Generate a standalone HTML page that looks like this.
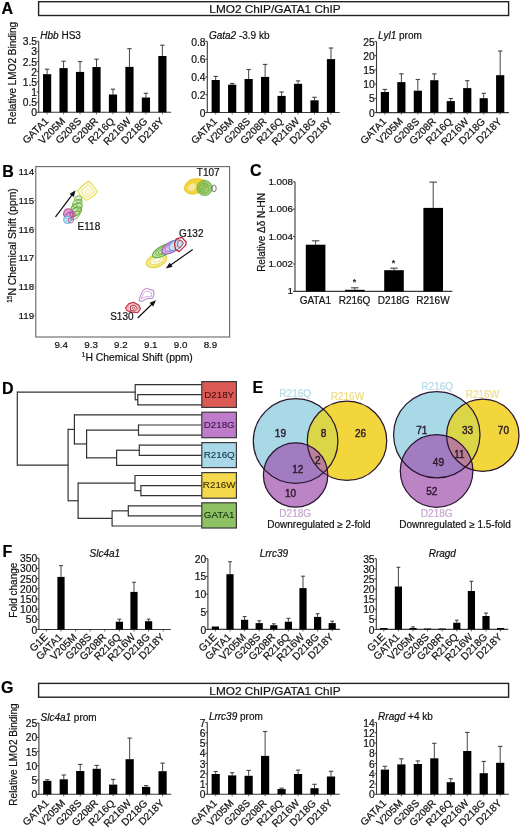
<!DOCTYPE html>
<html><head><meta charset="utf-8"><style>html,body{margin:0;padding:0;background:#fff}svg{display:block;filter:blur(0.3px)}text{font-family:"Liberation Sans",sans-serif}</style></head><body>
<svg width="520" height="828" viewBox="0 0 520 828" font-family='"Liberation Sans", sans-serif' fill="#111">
<rect width="520" height="828" fill="#fff"/>
<text x="1.5" y="13.6" font-size="16" font-weight="bold" fill="#000" stroke="#000" stroke-width="0.2">A</text>
<text x="2.2" y="176.6" font-size="16" font-weight="bold" fill="#000" stroke="#000" stroke-width="0.2">B</text>
<text x="250" y="176" font-size="16" font-weight="bold" fill="#000" stroke="#000" stroke-width="0.2">C</text>
<text x="2" y="393.6" font-size="16" font-weight="bold" fill="#000" stroke="#000" stroke-width="0.2">D</text>
<text x="252.4" y="393.2" font-size="16" font-weight="bold" fill="#000" stroke="#000" stroke-width="0.2">E</text>
<text x="2.6" y="557.4" font-size="16" font-weight="bold" fill="#000" stroke="#000" stroke-width="0.2">F</text>
<text x="1" y="692.8" font-size="16" font-weight="bold" fill="#000" stroke="#000" stroke-width="0.2">G</text>
<rect x="38.6" y="1.7" width="470" height="13.8" fill="#fff" stroke="#222" stroke-width="1.4"/>
<text x="275" y="12.7" font-size="11.8" text-anchor="middle" stroke="#111" stroke-width="0.2">LMO2 ChIP/GATA1 ChIP</text>
<text x="16" y="73" font-size="10" text-anchor="middle" stroke="#111" stroke-width="0.2" transform="rotate(-90 16 73)">Relative LMO2 Binding</text>
<line x1="38.7" y1="41.2" x2="38.7" y2="112.8" stroke="#3a3a3a" stroke-width="1.1"/>
<line x1="36.7" y1="112.3" x2="38.7" y2="112.3" stroke="#3a3a3a" stroke-width="1"/>
<text x="37" y="116.4" font-size="10.3" text-anchor="end" stroke="#111" stroke-width="0.2">0</text>
<line x1="36.7" y1="102.14" x2="38.7" y2="102.14" stroke="#3a3a3a" stroke-width="1"/>
<text x="37" y="106.24" font-size="10.3" text-anchor="end" stroke="#111" stroke-width="0.2">0.5</text>
<line x1="36.7" y1="91.99" x2="38.7" y2="91.99" stroke="#3a3a3a" stroke-width="1"/>
<text x="37" y="96.09" font-size="10.3" text-anchor="end" stroke="#111" stroke-width="0.2">1</text>
<line x1="36.7" y1="81.83" x2="38.7" y2="81.83" stroke="#3a3a3a" stroke-width="1"/>
<text x="37" y="85.93" font-size="10.3" text-anchor="end" stroke="#111" stroke-width="0.2">1.5</text>
<line x1="36.7" y1="71.67" x2="38.7" y2="71.67" stroke="#3a3a3a" stroke-width="1"/>
<text x="37" y="75.77" font-size="10.3" text-anchor="end" stroke="#111" stroke-width="0.2">2</text>
<line x1="36.7" y1="61.51" x2="38.7" y2="61.51" stroke="#3a3a3a" stroke-width="1"/>
<text x="37" y="65.61" font-size="10.3" text-anchor="end" stroke="#111" stroke-width="0.2">2.5</text>
<line x1="36.7" y1="51.36" x2="38.7" y2="51.36" stroke="#3a3a3a" stroke-width="1"/>
<text x="37" y="55.46" font-size="10.3" text-anchor="end" stroke="#111" stroke-width="0.2">3</text>
<line x1="36.7" y1="41.2" x2="38.7" y2="41.2" stroke="#3a3a3a" stroke-width="1"/>
<text x="37" y="45.3" font-size="10.3" text-anchor="end" stroke="#111" stroke-width="0.2">3.5</text>
<line x1="38.7" y1="112.3" x2="171.1" y2="112.3" stroke="#3a3a3a" stroke-width="1.1"/>
<line x1="47.1" y1="112.3" x2="47.1" y2="114.3" stroke="#3a3a3a" stroke-width="0.8"/>
<line x1="63.57" y1="112.3" x2="63.57" y2="114.3" stroke="#3a3a3a" stroke-width="0.8"/>
<line x1="80.04" y1="112.3" x2="80.04" y2="114.3" stroke="#3a3a3a" stroke-width="0.8"/>
<line x1="96.51" y1="112.3" x2="96.51" y2="114.3" stroke="#3a3a3a" stroke-width="0.8"/>
<line x1="112.98" y1="112.3" x2="112.98" y2="114.3" stroke="#3a3a3a" stroke-width="0.8"/>
<line x1="129.45" y1="112.3" x2="129.45" y2="114.3" stroke="#3a3a3a" stroke-width="0.8"/>
<line x1="145.92" y1="112.3" x2="145.92" y2="114.3" stroke="#3a3a3a" stroke-width="0.8"/>
<line x1="162.39" y1="112.3" x2="162.39" y2="114.3" stroke="#3a3a3a" stroke-width="0.8"/>
<line x1="47.1" y1="74.2" x2="47.1" y2="69.2" stroke="#444" stroke-width="1"/>
<line x1="44.9" y1="69.2" x2="49.3" y2="69.2" stroke="#444" stroke-width="1.1"/>
<rect x="43" y="74.2" width="8.2" height="38.1" fill="#000"/>
<line x1="63.57" y1="68.1" x2="63.57" y2="61.2" stroke="#444" stroke-width="1"/>
<line x1="61.37" y1="61.2" x2="65.77" y2="61.2" stroke="#444" stroke-width="1.1"/>
<rect x="59.47" y="68.1" width="8.2" height="44.2" fill="#000"/>
<line x1="80.04" y1="71.9" x2="80.04" y2="61.5" stroke="#444" stroke-width="1"/>
<line x1="77.84" y1="61.5" x2="82.24" y2="61.5" stroke="#444" stroke-width="1.1"/>
<rect x="75.94" y="71.9" width="8.2" height="40.4" fill="#000"/>
<line x1="96.51" y1="67" x2="96.51" y2="59.2" stroke="#444" stroke-width="1"/>
<line x1="94.31" y1="59.2" x2="98.71" y2="59.2" stroke="#444" stroke-width="1.1"/>
<rect x="92.41" y="67" width="8.2" height="45.3" fill="#000"/>
<line x1="112.98" y1="94.5" x2="112.98" y2="89.2" stroke="#444" stroke-width="1"/>
<line x1="110.78" y1="89.2" x2="115.18" y2="89.2" stroke="#444" stroke-width="1.1"/>
<rect x="108.88" y="94.5" width="8.2" height="17.8" fill="#000"/>
<line x1="129.45" y1="66.9" x2="129.45" y2="48.7" stroke="#444" stroke-width="1"/>
<line x1="127.25" y1="48.7" x2="131.65" y2="48.7" stroke="#444" stroke-width="1.1"/>
<rect x="125.35" y="66.9" width="8.2" height="45.4" fill="#000"/>
<line x1="145.92" y1="97.5" x2="145.92" y2="93.3" stroke="#444" stroke-width="1"/>
<line x1="143.72" y1="93.3" x2="148.12" y2="93.3" stroke="#444" stroke-width="1.1"/>
<rect x="141.82" y="97.5" width="8.2" height="14.8" fill="#000"/>
<line x1="162.39" y1="56" x2="162.39" y2="45.2" stroke="#444" stroke-width="1"/>
<line x1="160.19" y1="45.2" x2="164.59" y2="45.2" stroke="#444" stroke-width="1.1"/>
<rect x="158.29" y="56" width="8.2" height="56.3" fill="#000"/>
<text x="49.2" y="121.8" font-size="10.2" text-anchor="end" stroke="#111" stroke-width="0.2" transform="rotate(-45 49.2 121.8)">GATA1</text>
<text x="65.67" y="121.8" font-size="10.2" text-anchor="end" stroke="#111" stroke-width="0.2" transform="rotate(-45 65.67 121.8)">V205M</text>
<text x="82.14" y="121.8" font-size="10.2" text-anchor="end" stroke="#111" stroke-width="0.2" transform="rotate(-45 82.14 121.8)">G208S</text>
<text x="98.61" y="121.8" font-size="10.2" text-anchor="end" stroke="#111" stroke-width="0.2" transform="rotate(-45 98.61 121.8)">G208R</text>
<text x="115.08" y="121.8" font-size="10.2" text-anchor="end" stroke="#111" stroke-width="0.2" transform="rotate(-45 115.08 121.8)">R216Q</text>
<text x="131.55" y="121.8" font-size="10.2" text-anchor="end" stroke="#111" stroke-width="0.2" transform="rotate(-45 131.55 121.8)">R216W</text>
<text x="148.02" y="121.8" font-size="10.2" text-anchor="end" stroke="#111" stroke-width="0.2" transform="rotate(-45 148.02 121.8)">D218G</text>
<text x="164.49" y="121.8" font-size="10.2" text-anchor="end" stroke="#111" stroke-width="0.2" transform="rotate(-45 164.49 121.8)">D218Y</text>
<text x="40.3" y="38.6" font-size="10" stroke="#111" stroke-width="0.2"><tspan font-style="italic">Hbb</tspan> HS3</text>
<line x1="207.3" y1="41.4" x2="207.3" y2="113" stroke="#3a3a3a" stroke-width="1.1"/>
<line x1="205.3" y1="112.5" x2="207.3" y2="112.5" stroke="#3a3a3a" stroke-width="1"/>
<text x="205.6" y="116.6" font-size="10.3" text-anchor="end" stroke="#111" stroke-width="0.2">0</text>
<line x1="205.3" y1="94.72" x2="207.3" y2="94.72" stroke="#3a3a3a" stroke-width="1"/>
<text x="205.6" y="98.82" font-size="10.3" text-anchor="end" stroke="#111" stroke-width="0.2">0.2</text>
<line x1="205.3" y1="76.95" x2="207.3" y2="76.95" stroke="#3a3a3a" stroke-width="1"/>
<text x="205.6" y="81.05" font-size="10.3" text-anchor="end" stroke="#111" stroke-width="0.2">0.4</text>
<line x1="205.3" y1="59.18" x2="207.3" y2="59.18" stroke="#3a3a3a" stroke-width="1"/>
<text x="205.6" y="63.28" font-size="10.3" text-anchor="end" stroke="#111" stroke-width="0.2">0.6</text>
<line x1="205.3" y1="41.4" x2="207.3" y2="41.4" stroke="#3a3a3a" stroke-width="1"/>
<text x="205.6" y="45.5" font-size="10.3" text-anchor="end" stroke="#111" stroke-width="0.2">0.8</text>
<line x1="207.3" y1="112.5" x2="339.7" y2="112.5" stroke="#3a3a3a" stroke-width="1.1"/>
<line x1="215.7" y1="112.5" x2="215.7" y2="114.5" stroke="#3a3a3a" stroke-width="0.8"/>
<line x1="232.17" y1="112.5" x2="232.17" y2="114.5" stroke="#3a3a3a" stroke-width="0.8"/>
<line x1="248.64" y1="112.5" x2="248.64" y2="114.5" stroke="#3a3a3a" stroke-width="0.8"/>
<line x1="265.11" y1="112.5" x2="265.11" y2="114.5" stroke="#3a3a3a" stroke-width="0.8"/>
<line x1="281.58" y1="112.5" x2="281.58" y2="114.5" stroke="#3a3a3a" stroke-width="0.8"/>
<line x1="298.05" y1="112.5" x2="298.05" y2="114.5" stroke="#3a3a3a" stroke-width="0.8"/>
<line x1="314.52" y1="112.5" x2="314.52" y2="114.5" stroke="#3a3a3a" stroke-width="0.8"/>
<line x1="330.99" y1="112.5" x2="330.99" y2="114.5" stroke="#3a3a3a" stroke-width="0.8"/>
<line x1="215.7" y1="80" x2="215.7" y2="76.4" stroke="#444" stroke-width="1"/>
<line x1="213.5" y1="76.4" x2="217.9" y2="76.4" stroke="#444" stroke-width="1.1"/>
<rect x="211.6" y="80" width="8.2" height="32.5" fill="#000"/>
<line x1="232.17" y1="84.7" x2="232.17" y2="83.5" stroke="#444" stroke-width="1"/>
<line x1="229.97" y1="83.5" x2="234.37" y2="83.5" stroke="#444" stroke-width="1.1"/>
<rect x="228.07" y="84.7" width="8.2" height="27.8" fill="#000"/>
<line x1="248.64" y1="79" x2="248.64" y2="69.5" stroke="#444" stroke-width="1"/>
<line x1="246.44" y1="69.5" x2="250.84" y2="69.5" stroke="#444" stroke-width="1.1"/>
<rect x="244.54" y="79" width="8.2" height="33.5" fill="#000"/>
<line x1="265.11" y1="76.9" x2="265.11" y2="64.4" stroke="#444" stroke-width="1"/>
<line x1="262.91" y1="64.4" x2="267.31" y2="64.4" stroke="#444" stroke-width="1.1"/>
<rect x="261.01" y="76.9" width="8.2" height="35.6" fill="#000"/>
<line x1="281.58" y1="95.9" x2="281.58" y2="92" stroke="#444" stroke-width="1"/>
<line x1="279.38" y1="92" x2="283.78" y2="92" stroke="#444" stroke-width="1.1"/>
<rect x="277.48" y="95.9" width="8.2" height="16.6" fill="#000"/>
<line x1="298.05" y1="83.8" x2="298.05" y2="80.9" stroke="#444" stroke-width="1"/>
<line x1="295.85" y1="80.9" x2="300.25" y2="80.9" stroke="#444" stroke-width="1.1"/>
<rect x="293.95" y="83.8" width="8.2" height="28.7" fill="#000"/>
<line x1="314.52" y1="100.3" x2="314.52" y2="97.3" stroke="#444" stroke-width="1"/>
<line x1="312.32" y1="97.3" x2="316.72" y2="97.3" stroke="#444" stroke-width="1.1"/>
<rect x="310.42" y="100.3" width="8.2" height="12.2" fill="#000"/>
<line x1="330.99" y1="59.1" x2="330.99" y2="48" stroke="#444" stroke-width="1"/>
<line x1="328.79" y1="48" x2="333.19" y2="48" stroke="#444" stroke-width="1.1"/>
<rect x="326.89" y="59.1" width="8.2" height="53.4" fill="#000"/>
<text x="217.8" y="122" font-size="10.2" text-anchor="end" stroke="#111" stroke-width="0.2" transform="rotate(-45 217.8 122)">GATA1</text>
<text x="234.27" y="122" font-size="10.2" text-anchor="end" stroke="#111" stroke-width="0.2" transform="rotate(-45 234.27 122)">V205M</text>
<text x="250.74" y="122" font-size="10.2" text-anchor="end" stroke="#111" stroke-width="0.2" transform="rotate(-45 250.74 122)">G208S</text>
<text x="267.21" y="122" font-size="10.2" text-anchor="end" stroke="#111" stroke-width="0.2" transform="rotate(-45 267.21 122)">G208R</text>
<text x="283.68" y="122" font-size="10.2" text-anchor="end" stroke="#111" stroke-width="0.2" transform="rotate(-45 283.68 122)">R216Q</text>
<text x="300.15" y="122" font-size="10.2" text-anchor="end" stroke="#111" stroke-width="0.2" transform="rotate(-45 300.15 122)">R216W</text>
<text x="316.62" y="122" font-size="10.2" text-anchor="end" stroke="#111" stroke-width="0.2" transform="rotate(-45 316.62 122)">D218G</text>
<text x="333.09" y="122" font-size="10.2" text-anchor="end" stroke="#111" stroke-width="0.2" transform="rotate(-45 333.09 122)">D218Y</text>
<text x="208.9" y="38.8" font-size="10" stroke="#111" stroke-width="0.2"><tspan font-style="italic">Gata2</tspan> -3.9 kb</text>
<line x1="376.5" y1="41.4" x2="376.5" y2="113.1" stroke="#3a3a3a" stroke-width="1.1"/>
<line x1="374.5" y1="112.6" x2="376.5" y2="112.6" stroke="#3a3a3a" stroke-width="1"/>
<text x="374.8" y="116.7" font-size="10.3" text-anchor="end" stroke="#111" stroke-width="0.2">0</text>
<line x1="374.5" y1="98.36" x2="376.5" y2="98.36" stroke="#3a3a3a" stroke-width="1"/>
<text x="374.8" y="102.46" font-size="10.3" text-anchor="end" stroke="#111" stroke-width="0.2">5</text>
<line x1="374.5" y1="84.12" x2="376.5" y2="84.12" stroke="#3a3a3a" stroke-width="1"/>
<text x="374.8" y="88.22" font-size="10.3" text-anchor="end" stroke="#111" stroke-width="0.2">10</text>
<line x1="374.5" y1="69.88" x2="376.5" y2="69.88" stroke="#3a3a3a" stroke-width="1"/>
<text x="374.8" y="73.98" font-size="10.3" text-anchor="end" stroke="#111" stroke-width="0.2">15</text>
<line x1="374.5" y1="55.64" x2="376.5" y2="55.64" stroke="#3a3a3a" stroke-width="1"/>
<text x="374.8" y="59.74" font-size="10.3" text-anchor="end" stroke="#111" stroke-width="0.2">20</text>
<line x1="374.5" y1="41.4" x2="376.5" y2="41.4" stroke="#3a3a3a" stroke-width="1"/>
<text x="374.8" y="45.5" font-size="10.3" text-anchor="end" stroke="#111" stroke-width="0.2">25</text>
<line x1="376.5" y1="112.6" x2="508.9" y2="112.6" stroke="#3a3a3a" stroke-width="1.1"/>
<line x1="384.9" y1="112.6" x2="384.9" y2="114.6" stroke="#3a3a3a" stroke-width="0.8"/>
<line x1="401.37" y1="112.6" x2="401.37" y2="114.6" stroke="#3a3a3a" stroke-width="0.8"/>
<line x1="417.84" y1="112.6" x2="417.84" y2="114.6" stroke="#3a3a3a" stroke-width="0.8"/>
<line x1="434.31" y1="112.6" x2="434.31" y2="114.6" stroke="#3a3a3a" stroke-width="0.8"/>
<line x1="450.78" y1="112.6" x2="450.78" y2="114.6" stroke="#3a3a3a" stroke-width="0.8"/>
<line x1="467.25" y1="112.6" x2="467.25" y2="114.6" stroke="#3a3a3a" stroke-width="0.8"/>
<line x1="483.72" y1="112.6" x2="483.72" y2="114.6" stroke="#3a3a3a" stroke-width="0.8"/>
<line x1="500.19" y1="112.6" x2="500.19" y2="114.6" stroke="#3a3a3a" stroke-width="0.8"/>
<line x1="384.9" y1="92" x2="384.9" y2="89.4" stroke="#444" stroke-width="1"/>
<line x1="382.7" y1="89.4" x2="387.1" y2="89.4" stroke="#444" stroke-width="1.1"/>
<rect x="380.8" y="92" width="8.2" height="20.6" fill="#000"/>
<line x1="401.37" y1="82.1" x2="401.37" y2="73.8" stroke="#444" stroke-width="1"/>
<line x1="399.17" y1="73.8" x2="403.57" y2="73.8" stroke="#444" stroke-width="1.1"/>
<rect x="397.27" y="82.1" width="8.2" height="30.5" fill="#000"/>
<line x1="417.84" y1="90.7" x2="417.84" y2="79.5" stroke="#444" stroke-width="1"/>
<line x1="415.64" y1="79.5" x2="420.04" y2="79.5" stroke="#444" stroke-width="1.1"/>
<rect x="413.74" y="90.7" width="8.2" height="21.9" fill="#000"/>
<line x1="434.31" y1="80.2" x2="434.31" y2="73.9" stroke="#444" stroke-width="1"/>
<line x1="432.11" y1="73.9" x2="436.51" y2="73.9" stroke="#444" stroke-width="1.1"/>
<rect x="430.21" y="80.2" width="8.2" height="32.4" fill="#000"/>
<line x1="450.78" y1="101.1" x2="450.78" y2="98.5" stroke="#444" stroke-width="1"/>
<line x1="448.58" y1="98.5" x2="452.98" y2="98.5" stroke="#444" stroke-width="1.1"/>
<rect x="446.68" y="101.1" width="8.2" height="11.5" fill="#000"/>
<line x1="467.25" y1="88.1" x2="467.25" y2="80.7" stroke="#444" stroke-width="1"/>
<line x1="465.05" y1="80.7" x2="469.45" y2="80.7" stroke="#444" stroke-width="1.1"/>
<rect x="463.15" y="88.1" width="8.2" height="24.5" fill="#000"/>
<line x1="483.72" y1="98.2" x2="483.72" y2="93.3" stroke="#444" stroke-width="1"/>
<line x1="481.52" y1="93.3" x2="485.92" y2="93.3" stroke="#444" stroke-width="1.1"/>
<rect x="479.62" y="98.2" width="8.2" height="14.4" fill="#000"/>
<line x1="500.19" y1="75.2" x2="500.19" y2="51" stroke="#444" stroke-width="1"/>
<line x1="497.99" y1="51" x2="502.39" y2="51" stroke="#444" stroke-width="1.1"/>
<rect x="496.09" y="75.2" width="8.2" height="37.4" fill="#000"/>
<text x="387" y="122.1" font-size="10.2" text-anchor="end" stroke="#111" stroke-width="0.2" transform="rotate(-45 387 122.1)">GATA1</text>
<text x="403.47" y="122.1" font-size="10.2" text-anchor="end" stroke="#111" stroke-width="0.2" transform="rotate(-45 403.47 122.1)">V205M</text>
<text x="419.94" y="122.1" font-size="10.2" text-anchor="end" stroke="#111" stroke-width="0.2" transform="rotate(-45 419.94 122.1)">G208S</text>
<text x="436.41" y="122.1" font-size="10.2" text-anchor="end" stroke="#111" stroke-width="0.2" transform="rotate(-45 436.41 122.1)">G208R</text>
<text x="452.88" y="122.1" font-size="10.2" text-anchor="end" stroke="#111" stroke-width="0.2" transform="rotate(-45 452.88 122.1)">R216Q</text>
<text x="469.35" y="122.1" font-size="10.2" text-anchor="end" stroke="#111" stroke-width="0.2" transform="rotate(-45 469.35 122.1)">R216W</text>
<text x="485.82" y="122.1" font-size="10.2" text-anchor="end" stroke="#111" stroke-width="0.2" transform="rotate(-45 485.82 122.1)">D218G</text>
<text x="502.29" y="122.1" font-size="10.2" text-anchor="end" stroke="#111" stroke-width="0.2" transform="rotate(-45 502.29 122.1)">D218Y</text>
<text x="378.1" y="38.8" font-size="10" stroke="#111" stroke-width="0.2"><tspan font-style="italic">Lyl1</tspan> prom</text>
<rect x="38.6" y="683.4" width="470" height="13.8" fill="#fff" stroke="#222" stroke-width="1.4"/>
<text x="275" y="694.5" font-size="11.8" text-anchor="middle" stroke="#111" stroke-width="0.2">LMO2 ChIP/GATA1 ChIP</text>
<text x="16.9" y="754.5" font-size="10" text-anchor="middle" stroke="#111" stroke-width="0.2" transform="rotate(-90 16.9 754.5)">Relative LMO2 Binding</text>
<line x1="38.9" y1="723.1" x2="38.9" y2="794.8" stroke="#3a3a3a" stroke-width="1.1"/>
<line x1="36.9" y1="794.3" x2="38.9" y2="794.3" stroke="#3a3a3a" stroke-width="1"/>
<text x="37.2" y="798.4" font-size="10.3" text-anchor="end" stroke="#111" stroke-width="0.2">0</text>
<line x1="36.9" y1="780.06" x2="38.9" y2="780.06" stroke="#3a3a3a" stroke-width="1"/>
<text x="37.2" y="784.16" font-size="10.3" text-anchor="end" stroke="#111" stroke-width="0.2">5</text>
<line x1="36.9" y1="765.82" x2="38.9" y2="765.82" stroke="#3a3a3a" stroke-width="1"/>
<text x="37.2" y="769.92" font-size="10.3" text-anchor="end" stroke="#111" stroke-width="0.2">10</text>
<line x1="36.9" y1="751.58" x2="38.9" y2="751.58" stroke="#3a3a3a" stroke-width="1"/>
<text x="37.2" y="755.68" font-size="10.3" text-anchor="end" stroke="#111" stroke-width="0.2">15</text>
<line x1="36.9" y1="737.34" x2="38.9" y2="737.34" stroke="#3a3a3a" stroke-width="1"/>
<text x="37.2" y="741.44" font-size="10.3" text-anchor="end" stroke="#111" stroke-width="0.2">20</text>
<line x1="36.9" y1="723.1" x2="38.9" y2="723.1" stroke="#3a3a3a" stroke-width="1"/>
<text x="37.2" y="727.2" font-size="10.3" text-anchor="end" stroke="#111" stroke-width="0.2">25</text>
<line x1="38.9" y1="794.3" x2="171.3" y2="794.3" stroke="#3a3a3a" stroke-width="1.1"/>
<line x1="47.3" y1="794.3" x2="47.3" y2="796.3" stroke="#3a3a3a" stroke-width="0.8"/>
<line x1="63.77" y1="794.3" x2="63.77" y2="796.3" stroke="#3a3a3a" stroke-width="0.8"/>
<line x1="80.24" y1="794.3" x2="80.24" y2="796.3" stroke="#3a3a3a" stroke-width="0.8"/>
<line x1="96.71" y1="794.3" x2="96.71" y2="796.3" stroke="#3a3a3a" stroke-width="0.8"/>
<line x1="113.18" y1="794.3" x2="113.18" y2="796.3" stroke="#3a3a3a" stroke-width="0.8"/>
<line x1="129.65" y1="794.3" x2="129.65" y2="796.3" stroke="#3a3a3a" stroke-width="0.8"/>
<line x1="146.12" y1="794.3" x2="146.12" y2="796.3" stroke="#3a3a3a" stroke-width="0.8"/>
<line x1="162.59" y1="794.3" x2="162.59" y2="796.3" stroke="#3a3a3a" stroke-width="0.8"/>
<line x1="47.3" y1="780.9" x2="47.3" y2="779.7" stroke="#444" stroke-width="1"/>
<line x1="45.1" y1="779.7" x2="49.5" y2="779.7" stroke="#444" stroke-width="1.1"/>
<rect x="43.2" y="780.9" width="8.2" height="13.4" fill="#000"/>
<line x1="63.77" y1="779.3" x2="63.77" y2="775" stroke="#444" stroke-width="1"/>
<line x1="61.57" y1="775" x2="65.97" y2="775" stroke="#444" stroke-width="1.1"/>
<rect x="59.67" y="779.3" width="8.2" height="15" fill="#000"/>
<line x1="80.24" y1="771" x2="80.24" y2="764.4" stroke="#444" stroke-width="1"/>
<line x1="78.04" y1="764.4" x2="82.44" y2="764.4" stroke="#444" stroke-width="1.1"/>
<rect x="76.14" y="771" width="8.2" height="23.3" fill="#000"/>
<line x1="96.71" y1="768.8" x2="96.71" y2="765.4" stroke="#444" stroke-width="1"/>
<line x1="94.51" y1="765.4" x2="98.91" y2="765.4" stroke="#444" stroke-width="1.1"/>
<rect x="92.61" y="768.8" width="8.2" height="25.5" fill="#000"/>
<line x1="113.18" y1="784.6" x2="113.18" y2="779.4" stroke="#444" stroke-width="1"/>
<line x1="110.98" y1="779.4" x2="115.38" y2="779.4" stroke="#444" stroke-width="1.1"/>
<rect x="109.08" y="784.6" width="8.2" height="9.7" fill="#000"/>
<line x1="129.65" y1="759.2" x2="129.65" y2="738.1" stroke="#444" stroke-width="1"/>
<line x1="127.45" y1="738.1" x2="131.85" y2="738.1" stroke="#444" stroke-width="1.1"/>
<rect x="125.55" y="759.2" width="8.2" height="35.1" fill="#000"/>
<line x1="146.12" y1="786.9" x2="146.12" y2="785.6" stroke="#444" stroke-width="1"/>
<line x1="143.92" y1="785.6" x2="148.32" y2="785.6" stroke="#444" stroke-width="1.1"/>
<rect x="142.02" y="786.9" width="8.2" height="7.4" fill="#000"/>
<line x1="162.59" y1="771.2" x2="162.59" y2="763.1" stroke="#444" stroke-width="1"/>
<line x1="160.39" y1="763.1" x2="164.79" y2="763.1" stroke="#444" stroke-width="1.1"/>
<rect x="158.49" y="771.2" width="8.2" height="23.1" fill="#000"/>
<text x="49.4" y="803.8" font-size="10.2" text-anchor="end" stroke="#111" stroke-width="0.2" transform="rotate(-45 49.4 803.8)">GATA1</text>
<text x="65.87" y="803.8" font-size="10.2" text-anchor="end" stroke="#111" stroke-width="0.2" transform="rotate(-45 65.87 803.8)">V205M</text>
<text x="82.34" y="803.8" font-size="10.2" text-anchor="end" stroke="#111" stroke-width="0.2" transform="rotate(-45 82.34 803.8)">G208S</text>
<text x="98.81" y="803.8" font-size="10.2" text-anchor="end" stroke="#111" stroke-width="0.2" transform="rotate(-45 98.81 803.8)">G208R</text>
<text x="115.28" y="803.8" font-size="10.2" text-anchor="end" stroke="#111" stroke-width="0.2" transform="rotate(-45 115.28 803.8)">R216Q</text>
<text x="131.75" y="803.8" font-size="10.2" text-anchor="end" stroke="#111" stroke-width="0.2" transform="rotate(-45 131.75 803.8)">R216W</text>
<text x="148.22" y="803.8" font-size="10.2" text-anchor="end" stroke="#111" stroke-width="0.2" transform="rotate(-45 148.22 803.8)">D218G</text>
<text x="164.69" y="803.8" font-size="10.2" text-anchor="end" stroke="#111" stroke-width="0.2" transform="rotate(-45 164.69 803.8)">D218Y</text>
<text x="40.5" y="720.5" font-size="10" stroke="#111" stroke-width="0.2"><tspan font-style="italic">Slc4a1</tspan> prom</text>
<line x1="207.3" y1="722.5" x2="207.3" y2="794.8" stroke="#3a3a3a" stroke-width="1.1"/>
<line x1="205.3" y1="794.3" x2="207.3" y2="794.3" stroke="#3a3a3a" stroke-width="1"/>
<text x="205.6" y="798.4" font-size="10.3" text-anchor="end" stroke="#111" stroke-width="0.2">0</text>
<line x1="205.3" y1="784.04" x2="207.3" y2="784.04" stroke="#3a3a3a" stroke-width="1"/>
<text x="205.6" y="788.14" font-size="10.3" text-anchor="end" stroke="#111" stroke-width="0.2">1</text>
<line x1="205.3" y1="773.79" x2="207.3" y2="773.79" stroke="#3a3a3a" stroke-width="1"/>
<text x="205.6" y="777.89" font-size="10.3" text-anchor="end" stroke="#111" stroke-width="0.2">2</text>
<line x1="205.3" y1="763.53" x2="207.3" y2="763.53" stroke="#3a3a3a" stroke-width="1"/>
<text x="205.6" y="767.63" font-size="10.3" text-anchor="end" stroke="#111" stroke-width="0.2">3</text>
<line x1="205.3" y1="753.27" x2="207.3" y2="753.27" stroke="#3a3a3a" stroke-width="1"/>
<text x="205.6" y="757.37" font-size="10.3" text-anchor="end" stroke="#111" stroke-width="0.2">4</text>
<line x1="205.3" y1="743.01" x2="207.3" y2="743.01" stroke="#3a3a3a" stroke-width="1"/>
<text x="205.6" y="747.11" font-size="10.3" text-anchor="end" stroke="#111" stroke-width="0.2">5</text>
<line x1="205.3" y1="732.76" x2="207.3" y2="732.76" stroke="#3a3a3a" stroke-width="1"/>
<text x="205.6" y="736.86" font-size="10.3" text-anchor="end" stroke="#111" stroke-width="0.2">6</text>
<line x1="205.3" y1="722.5" x2="207.3" y2="722.5" stroke="#3a3a3a" stroke-width="1"/>
<text x="205.6" y="726.6" font-size="10.3" text-anchor="end" stroke="#111" stroke-width="0.2">7</text>
<line x1="207.3" y1="794.3" x2="339.7" y2="794.3" stroke="#3a3a3a" stroke-width="1.1"/>
<line x1="215.7" y1="794.3" x2="215.7" y2="796.3" stroke="#3a3a3a" stroke-width="0.8"/>
<line x1="232.17" y1="794.3" x2="232.17" y2="796.3" stroke="#3a3a3a" stroke-width="0.8"/>
<line x1="248.64" y1="794.3" x2="248.64" y2="796.3" stroke="#3a3a3a" stroke-width="0.8"/>
<line x1="265.11" y1="794.3" x2="265.11" y2="796.3" stroke="#3a3a3a" stroke-width="0.8"/>
<line x1="281.58" y1="794.3" x2="281.58" y2="796.3" stroke="#3a3a3a" stroke-width="0.8"/>
<line x1="298.05" y1="794.3" x2="298.05" y2="796.3" stroke="#3a3a3a" stroke-width="0.8"/>
<line x1="314.52" y1="794.3" x2="314.52" y2="796.3" stroke="#3a3a3a" stroke-width="0.8"/>
<line x1="330.99" y1="794.3" x2="330.99" y2="796.3" stroke="#3a3a3a" stroke-width="0.8"/>
<line x1="215.7" y1="774" x2="215.7" y2="771.5" stroke="#444" stroke-width="1"/>
<line x1="213.5" y1="771.5" x2="217.9" y2="771.5" stroke="#444" stroke-width="1.1"/>
<rect x="211.6" y="774" width="8.2" height="20.3" fill="#000"/>
<line x1="232.17" y1="775.4" x2="232.17" y2="772.7" stroke="#444" stroke-width="1"/>
<line x1="229.97" y1="772.7" x2="234.37" y2="772.7" stroke="#444" stroke-width="1.1"/>
<rect x="228.07" y="775.4" width="8.2" height="18.9" fill="#000"/>
<line x1="248.64" y1="775.8" x2="248.64" y2="770.4" stroke="#444" stroke-width="1"/>
<line x1="246.44" y1="770.4" x2="250.84" y2="770.4" stroke="#444" stroke-width="1.1"/>
<rect x="244.54" y="775.8" width="8.2" height="18.5" fill="#000"/>
<line x1="265.11" y1="755.9" x2="265.11" y2="731.5" stroke="#444" stroke-width="1"/>
<line x1="262.91" y1="731.5" x2="267.31" y2="731.5" stroke="#444" stroke-width="1.1"/>
<rect x="261.01" y="755.9" width="8.2" height="38.4" fill="#000"/>
<line x1="281.58" y1="789.1" x2="281.58" y2="788.2" stroke="#444" stroke-width="1"/>
<line x1="279.38" y1="788.2" x2="283.78" y2="788.2" stroke="#444" stroke-width="1.1"/>
<rect x="277.48" y="789.1" width="8.2" height="5.2" fill="#000"/>
<line x1="298.05" y1="774" x2="298.05" y2="770.1" stroke="#444" stroke-width="1"/>
<line x1="295.85" y1="770.1" x2="300.25" y2="770.1" stroke="#444" stroke-width="1.1"/>
<rect x="293.95" y="774" width="8.2" height="20.3" fill="#000"/>
<line x1="314.52" y1="788.2" x2="314.52" y2="784.3" stroke="#444" stroke-width="1"/>
<line x1="312.32" y1="784.3" x2="316.72" y2="784.3" stroke="#444" stroke-width="1.1"/>
<rect x="310.42" y="788.2" width="8.2" height="6.1" fill="#000"/>
<line x1="330.99" y1="776.5" x2="330.99" y2="771.3" stroke="#444" stroke-width="1"/>
<line x1="328.79" y1="771.3" x2="333.19" y2="771.3" stroke="#444" stroke-width="1.1"/>
<rect x="326.89" y="776.5" width="8.2" height="17.8" fill="#000"/>
<text x="217.8" y="803.8" font-size="10.2" text-anchor="end" stroke="#111" stroke-width="0.2" transform="rotate(-45 217.8 803.8)">GATA1</text>
<text x="234.27" y="803.8" font-size="10.2" text-anchor="end" stroke="#111" stroke-width="0.2" transform="rotate(-45 234.27 803.8)">V205M</text>
<text x="250.74" y="803.8" font-size="10.2" text-anchor="end" stroke="#111" stroke-width="0.2" transform="rotate(-45 250.74 803.8)">G208S</text>
<text x="267.21" y="803.8" font-size="10.2" text-anchor="end" stroke="#111" stroke-width="0.2" transform="rotate(-45 267.21 803.8)">G208R</text>
<text x="283.68" y="803.8" font-size="10.2" text-anchor="end" stroke="#111" stroke-width="0.2" transform="rotate(-45 283.68 803.8)">R216Q</text>
<text x="300.15" y="803.8" font-size="10.2" text-anchor="end" stroke="#111" stroke-width="0.2" transform="rotate(-45 300.15 803.8)">R216W</text>
<text x="316.62" y="803.8" font-size="10.2" text-anchor="end" stroke="#111" stroke-width="0.2" transform="rotate(-45 316.62 803.8)">D218G</text>
<text x="333.09" y="803.8" font-size="10.2" text-anchor="end" stroke="#111" stroke-width="0.2" transform="rotate(-45 333.09 803.8)">D218Y</text>
<text x="208.9" y="719.9" font-size="10" stroke="#111" stroke-width="0.2"><tspan font-style="italic">Lrrc39</tspan> prom</text>
<line x1="376.5" y1="722.5" x2="376.5" y2="794.8" stroke="#3a3a3a" stroke-width="1.1"/>
<line x1="374.5" y1="794.3" x2="376.5" y2="794.3" stroke="#3a3a3a" stroke-width="1"/>
<text x="374.8" y="798.4" font-size="10.3" text-anchor="end" stroke="#111" stroke-width="0.2">0</text>
<line x1="374.5" y1="784.04" x2="376.5" y2="784.04" stroke="#3a3a3a" stroke-width="1"/>
<text x="374.8" y="788.14" font-size="10.3" text-anchor="end" stroke="#111" stroke-width="0.2">2</text>
<line x1="374.5" y1="773.79" x2="376.5" y2="773.79" stroke="#3a3a3a" stroke-width="1"/>
<text x="374.8" y="777.89" font-size="10.3" text-anchor="end" stroke="#111" stroke-width="0.2">4</text>
<line x1="374.5" y1="763.53" x2="376.5" y2="763.53" stroke="#3a3a3a" stroke-width="1"/>
<text x="374.8" y="767.63" font-size="10.3" text-anchor="end" stroke="#111" stroke-width="0.2">6</text>
<line x1="374.5" y1="753.27" x2="376.5" y2="753.27" stroke="#3a3a3a" stroke-width="1"/>
<text x="374.8" y="757.37" font-size="10.3" text-anchor="end" stroke="#111" stroke-width="0.2">8</text>
<line x1="374.5" y1="743.01" x2="376.5" y2="743.01" stroke="#3a3a3a" stroke-width="1"/>
<text x="374.8" y="747.11" font-size="10.3" text-anchor="end" stroke="#111" stroke-width="0.2">10</text>
<line x1="374.5" y1="732.76" x2="376.5" y2="732.76" stroke="#3a3a3a" stroke-width="1"/>
<text x="374.8" y="736.86" font-size="10.3" text-anchor="end" stroke="#111" stroke-width="0.2">12</text>
<line x1="374.5" y1="722.5" x2="376.5" y2="722.5" stroke="#3a3a3a" stroke-width="1"/>
<text x="374.8" y="726.6" font-size="10.3" text-anchor="end" stroke="#111" stroke-width="0.2">14</text>
<line x1="376.5" y1="794.3" x2="508.9" y2="794.3" stroke="#3a3a3a" stroke-width="1.1"/>
<line x1="384.9" y1="794.3" x2="384.9" y2="796.3" stroke="#3a3a3a" stroke-width="0.8"/>
<line x1="401.37" y1="794.3" x2="401.37" y2="796.3" stroke="#3a3a3a" stroke-width="0.8"/>
<line x1="417.84" y1="794.3" x2="417.84" y2="796.3" stroke="#3a3a3a" stroke-width="0.8"/>
<line x1="434.31" y1="794.3" x2="434.31" y2="796.3" stroke="#3a3a3a" stroke-width="0.8"/>
<line x1="450.78" y1="794.3" x2="450.78" y2="796.3" stroke="#3a3a3a" stroke-width="0.8"/>
<line x1="467.25" y1="794.3" x2="467.25" y2="796.3" stroke="#3a3a3a" stroke-width="0.8"/>
<line x1="483.72" y1="794.3" x2="483.72" y2="796.3" stroke="#3a3a3a" stroke-width="0.8"/>
<line x1="500.19" y1="794.3" x2="500.19" y2="796.3" stroke="#3a3a3a" stroke-width="0.8"/>
<line x1="384.9" y1="769.6" x2="384.9" y2="766.3" stroke="#444" stroke-width="1"/>
<line x1="382.7" y1="766.3" x2="387.1" y2="766.3" stroke="#444" stroke-width="1.1"/>
<rect x="380.8" y="769.6" width="8.2" height="24.7" fill="#000"/>
<line x1="401.37" y1="764.4" x2="401.37" y2="758.8" stroke="#444" stroke-width="1"/>
<line x1="399.17" y1="758.8" x2="403.57" y2="758.8" stroke="#444" stroke-width="1.1"/>
<rect x="397.27" y="764.4" width="8.2" height="29.9" fill="#000"/>
<line x1="417.84" y1="764" x2="417.84" y2="760.9" stroke="#444" stroke-width="1"/>
<line x1="415.64" y1="760.9" x2="420.04" y2="760.9" stroke="#444" stroke-width="1.1"/>
<rect x="413.74" y="764" width="8.2" height="30.3" fill="#000"/>
<line x1="434.31" y1="758.3" x2="434.31" y2="743.3" stroke="#444" stroke-width="1"/>
<line x1="432.11" y1="743.3" x2="436.51" y2="743.3" stroke="#444" stroke-width="1.1"/>
<rect x="430.21" y="758.3" width="8.2" height="36" fill="#000"/>
<line x1="450.78" y1="782.2" x2="450.78" y2="778.7" stroke="#444" stroke-width="1"/>
<line x1="448.58" y1="778.7" x2="452.98" y2="778.7" stroke="#444" stroke-width="1.1"/>
<rect x="446.68" y="782.2" width="8.2" height="12.1" fill="#000"/>
<line x1="467.25" y1="751" x2="467.25" y2="732.4" stroke="#444" stroke-width="1"/>
<line x1="465.05" y1="732.4" x2="469.45" y2="732.4" stroke="#444" stroke-width="1.1"/>
<rect x="463.15" y="751" width="8.2" height="43.3" fill="#000"/>
<line x1="483.72" y1="773.2" x2="483.72" y2="761.4" stroke="#444" stroke-width="1"/>
<line x1="481.52" y1="761.4" x2="485.92" y2="761.4" stroke="#444" stroke-width="1.1"/>
<rect x="479.62" y="773.2" width="8.2" height="21.1" fill="#000"/>
<line x1="500.19" y1="762.8" x2="500.19" y2="746.4" stroke="#444" stroke-width="1"/>
<line x1="497.99" y1="746.4" x2="502.39" y2="746.4" stroke="#444" stroke-width="1.1"/>
<rect x="496.09" y="762.8" width="8.2" height="31.5" fill="#000"/>
<text x="387" y="803.8" font-size="10.2" text-anchor="end" stroke="#111" stroke-width="0.2" transform="rotate(-45 387 803.8)">GATA1</text>
<text x="403.47" y="803.8" font-size="10.2" text-anchor="end" stroke="#111" stroke-width="0.2" transform="rotate(-45 403.47 803.8)">V205M</text>
<text x="419.94" y="803.8" font-size="10.2" text-anchor="end" stroke="#111" stroke-width="0.2" transform="rotate(-45 419.94 803.8)">G208S</text>
<text x="436.41" y="803.8" font-size="10.2" text-anchor="end" stroke="#111" stroke-width="0.2" transform="rotate(-45 436.41 803.8)">G208R</text>
<text x="452.88" y="803.8" font-size="10.2" text-anchor="end" stroke="#111" stroke-width="0.2" transform="rotate(-45 452.88 803.8)">R216Q</text>
<text x="469.35" y="803.8" font-size="10.2" text-anchor="end" stroke="#111" stroke-width="0.2" transform="rotate(-45 469.35 803.8)">R216W</text>
<text x="485.82" y="803.8" font-size="10.2" text-anchor="end" stroke="#111" stroke-width="0.2" transform="rotate(-45 485.82 803.8)">D218G</text>
<text x="502.29" y="803.8" font-size="10.2" text-anchor="end" stroke="#111" stroke-width="0.2" transform="rotate(-45 502.29 803.8)">D218Y</text>
<text x="378.1" y="719.9" font-size="10" stroke="#111" stroke-width="0.2"><tspan font-style="italic">Rragd</tspan> +4 kb</text>
<text x="16.8" y="590.2" font-size="10" text-anchor="middle" stroke="#111" stroke-width="0.2" transform="rotate(-90 16.8 590.2)">Fold change</text>
<line x1="38.9" y1="558.2" x2="38.9" y2="630" stroke="#3a3a3a" stroke-width="1.1"/>
<line x1="36.9" y1="629.5" x2="38.9" y2="629.5" stroke="#3a3a3a" stroke-width="1"/>
<text x="37.2" y="633.6" font-size="10.3" text-anchor="end" stroke="#111" stroke-width="0.2">0</text>
<line x1="36.9" y1="619.31" x2="38.9" y2="619.31" stroke="#3a3a3a" stroke-width="1"/>
<text x="37.2" y="623.41" font-size="10.3" text-anchor="end" stroke="#111" stroke-width="0.2">50</text>
<line x1="36.9" y1="609.13" x2="38.9" y2="609.13" stroke="#3a3a3a" stroke-width="1"/>
<text x="37.2" y="613.23" font-size="10.3" text-anchor="end" stroke="#111" stroke-width="0.2">100</text>
<line x1="36.9" y1="598.94" x2="38.9" y2="598.94" stroke="#3a3a3a" stroke-width="1"/>
<text x="37.2" y="603.04" font-size="10.3" text-anchor="end" stroke="#111" stroke-width="0.2">150</text>
<line x1="36.9" y1="588.76" x2="38.9" y2="588.76" stroke="#3a3a3a" stroke-width="1"/>
<text x="37.2" y="592.86" font-size="10.3" text-anchor="end" stroke="#111" stroke-width="0.2">200</text>
<line x1="36.9" y1="578.57" x2="38.9" y2="578.57" stroke="#3a3a3a" stroke-width="1"/>
<text x="37.2" y="582.67" font-size="10.3" text-anchor="end" stroke="#111" stroke-width="0.2">250</text>
<line x1="36.9" y1="568.39" x2="38.9" y2="568.39" stroke="#3a3a3a" stroke-width="1"/>
<text x="37.2" y="572.49" font-size="10.3" text-anchor="end" stroke="#111" stroke-width="0.2">300</text>
<line x1="36.9" y1="558.2" x2="38.9" y2="558.2" stroke="#3a3a3a" stroke-width="1"/>
<text x="37.2" y="562.3" font-size="10.3" text-anchor="end" stroke="#111" stroke-width="0.2">350</text>
<line x1="38.9" y1="629.5" x2="170.9" y2="629.5" stroke="#3a3a3a" stroke-width="1.1"/>
<line x1="46.4" y1="629.5" x2="46.4" y2="631.5" stroke="#3a3a3a" stroke-width="0.8"/>
<line x1="61" y1="629.5" x2="61" y2="631.5" stroke="#3a3a3a" stroke-width="0.8"/>
<line x1="75.6" y1="629.5" x2="75.6" y2="631.5" stroke="#3a3a3a" stroke-width="0.8"/>
<line x1="90.2" y1="629.5" x2="90.2" y2="631.5" stroke="#3a3a3a" stroke-width="0.8"/>
<line x1="104.8" y1="629.5" x2="104.8" y2="631.5" stroke="#3a3a3a" stroke-width="0.8"/>
<line x1="119.4" y1="629.5" x2="119.4" y2="631.5" stroke="#3a3a3a" stroke-width="0.8"/>
<line x1="134" y1="629.5" x2="134" y2="631.5" stroke="#3a3a3a" stroke-width="0.8"/>
<line x1="148.6" y1="629.5" x2="148.6" y2="631.5" stroke="#3a3a3a" stroke-width="0.8"/>
<line x1="163.2" y1="629.5" x2="163.2" y2="631.5" stroke="#3a3a3a" stroke-width="0.8"/>
<rect x="42.8" y="629" width="7.2" height="0.5" fill="#000"/>
<line x1="61" y1="576.9" x2="61" y2="565.6" stroke="#444" stroke-width="1"/>
<line x1="59.1" y1="565.6" x2="62.9" y2="565.6" stroke="#444" stroke-width="1.1"/>
<rect x="57.4" y="576.9" width="7.2" height="52.6" fill="#000"/>
<line x1="119.4" y1="621.7" x2="119.4" y2="619.2" stroke="#444" stroke-width="1"/>
<line x1="117.5" y1="619.2" x2="121.3" y2="619.2" stroke="#444" stroke-width="1.1"/>
<rect x="115.8" y="621.7" width="7.2" height="7.8" fill="#000"/>
<line x1="134" y1="591.9" x2="134" y2="582.3" stroke="#444" stroke-width="1"/>
<line x1="132.1" y1="582.3" x2="135.9" y2="582.3" stroke="#444" stroke-width="1.1"/>
<rect x="130.4" y="591.9" width="7.2" height="37.6" fill="#000"/>
<line x1="148.6" y1="621.2" x2="148.6" y2="619.2" stroke="#444" stroke-width="1"/>
<line x1="146.7" y1="619.2" x2="150.5" y2="619.2" stroke="#444" stroke-width="1.1"/>
<rect x="145" y="621.2" width="7.2" height="8.3" fill="#000"/>
<text x="48.4" y="637.7" font-size="10.3" text-anchor="end" stroke="#111" stroke-width="0.2" transform="rotate(-45 48.4 637.7)">G1E</text>
<text x="63" y="637.7" font-size="10.3" text-anchor="end" stroke="#111" stroke-width="0.2" transform="rotate(-45 63 637.7)">GATA1</text>
<text x="77.6" y="637.7" font-size="10.3" text-anchor="end" stroke="#111" stroke-width="0.2" transform="rotate(-45 77.6 637.7)">V205M</text>
<text x="92.2" y="637.7" font-size="10.3" text-anchor="end" stroke="#111" stroke-width="0.2" transform="rotate(-45 92.2 637.7)">G208S</text>
<text x="106.8" y="637.7" font-size="10.3" text-anchor="end" stroke="#111" stroke-width="0.2" transform="rotate(-45 106.8 637.7)">G208R</text>
<text x="121.4" y="637.7" font-size="10.3" text-anchor="end" stroke="#111" stroke-width="0.2" transform="rotate(-45 121.4 637.7)">R216Q</text>
<text x="136" y="637.7" font-size="10.3" text-anchor="end" stroke="#111" stroke-width="0.2" transform="rotate(-45 136 637.7)">R216W</text>
<text x="150.6" y="637.7" font-size="10.3" text-anchor="end" stroke="#111" stroke-width="0.2" transform="rotate(-45 150.6 637.7)">D218G</text>
<text x="165.2" y="637.7" font-size="10.3" text-anchor="end" stroke="#111" stroke-width="0.2" transform="rotate(-45 165.2 637.7)">D218Y</text>
<text x="104.9" y="556.6" font-size="10" text-anchor="middle" font-style="italic" stroke="#111" stroke-width="0.2">Slc4a1</text>
<line x1="207.9" y1="558.7" x2="207.9" y2="629.9" stroke="#3a3a3a" stroke-width="1.1"/>
<line x1="205.9" y1="629.4" x2="207.9" y2="629.4" stroke="#3a3a3a" stroke-width="1"/>
<text x="206.2" y="633.5" font-size="10.3" text-anchor="end" stroke="#111" stroke-width="0.2">0</text>
<line x1="205.9" y1="611.73" x2="207.9" y2="611.73" stroke="#3a3a3a" stroke-width="1"/>
<text x="206.2" y="615.83" font-size="10.3" text-anchor="end" stroke="#111" stroke-width="0.2">5</text>
<line x1="205.9" y1="594.05" x2="207.9" y2="594.05" stroke="#3a3a3a" stroke-width="1"/>
<text x="206.2" y="598.15" font-size="10.3" text-anchor="end" stroke="#111" stroke-width="0.2">10</text>
<line x1="205.9" y1="576.38" x2="207.9" y2="576.38" stroke="#3a3a3a" stroke-width="1"/>
<text x="206.2" y="580.48" font-size="10.3" text-anchor="end" stroke="#111" stroke-width="0.2">15</text>
<line x1="205.9" y1="558.7" x2="207.9" y2="558.7" stroke="#3a3a3a" stroke-width="1"/>
<text x="206.2" y="562.8" font-size="10.3" text-anchor="end" stroke="#111" stroke-width="0.2">20</text>
<line x1="207.9" y1="629.4" x2="339.9" y2="629.4" stroke="#3a3a3a" stroke-width="1.1"/>
<line x1="215.4" y1="629.4" x2="215.4" y2="631.4" stroke="#3a3a3a" stroke-width="0.8"/>
<line x1="230" y1="629.4" x2="230" y2="631.4" stroke="#3a3a3a" stroke-width="0.8"/>
<line x1="244.6" y1="629.4" x2="244.6" y2="631.4" stroke="#3a3a3a" stroke-width="0.8"/>
<line x1="259.2" y1="629.4" x2="259.2" y2="631.4" stroke="#3a3a3a" stroke-width="0.8"/>
<line x1="273.8" y1="629.4" x2="273.8" y2="631.4" stroke="#3a3a3a" stroke-width="0.8"/>
<line x1="288.4" y1="629.4" x2="288.4" y2="631.4" stroke="#3a3a3a" stroke-width="0.8"/>
<line x1="303" y1="629.4" x2="303" y2="631.4" stroke="#3a3a3a" stroke-width="0.8"/>
<line x1="317.6" y1="629.4" x2="317.6" y2="631.4" stroke="#3a3a3a" stroke-width="0.8"/>
<line x1="332.2" y1="629.4" x2="332.2" y2="631.4" stroke="#3a3a3a" stroke-width="0.8"/>
<rect x="211.8" y="626.5" width="7.2" height="2.9" fill="#000"/>
<line x1="230" y1="574.2" x2="230" y2="561.7" stroke="#444" stroke-width="1"/>
<line x1="228.1" y1="561.7" x2="231.9" y2="561.7" stroke="#444" stroke-width="1.1"/>
<rect x="226.4" y="574.2" width="7.2" height="55.2" fill="#000"/>
<line x1="244.6" y1="619.8" x2="244.6" y2="616.5" stroke="#444" stroke-width="1"/>
<line x1="242.7" y1="616.5" x2="246.5" y2="616.5" stroke="#444" stroke-width="1.1"/>
<rect x="241" y="619.8" width="7.2" height="9.6" fill="#000"/>
<line x1="259.2" y1="623.1" x2="259.2" y2="620.8" stroke="#444" stroke-width="1"/>
<line x1="257.3" y1="620.8" x2="261.1" y2="620.8" stroke="#444" stroke-width="1.1"/>
<rect x="255.6" y="623.1" width="7.2" height="6.3" fill="#000"/>
<line x1="273.8" y1="625.2" x2="273.8" y2="623.8" stroke="#444" stroke-width="1"/>
<line x1="271.9" y1="623.8" x2="275.7" y2="623.8" stroke="#444" stroke-width="1.1"/>
<rect x="270.2" y="625.2" width="7.2" height="4.2" fill="#000"/>
<line x1="288.4" y1="621.7" x2="288.4" y2="618.3" stroke="#444" stroke-width="1"/>
<line x1="286.5" y1="618.3" x2="290.3" y2="618.3" stroke="#444" stroke-width="1.1"/>
<rect x="284.8" y="621.7" width="7.2" height="7.7" fill="#000"/>
<line x1="303" y1="588.1" x2="303" y2="576.2" stroke="#444" stroke-width="1"/>
<line x1="301.1" y1="576.2" x2="304.9" y2="576.2" stroke="#444" stroke-width="1.1"/>
<rect x="299.4" y="588.1" width="7.2" height="41.3" fill="#000"/>
<line x1="317.6" y1="616.9" x2="317.6" y2="613.7" stroke="#444" stroke-width="1"/>
<line x1="315.7" y1="613.7" x2="319.5" y2="613.7" stroke="#444" stroke-width="1.1"/>
<rect x="314" y="616.9" width="7.2" height="12.5" fill="#000"/>
<line x1="332.2" y1="623.1" x2="332.2" y2="621.2" stroke="#444" stroke-width="1"/>
<line x1="330.3" y1="621.2" x2="334.1" y2="621.2" stroke="#444" stroke-width="1.1"/>
<rect x="328.6" y="623.1" width="7.2" height="6.3" fill="#000"/>
<text x="217.4" y="637.6" font-size="10.3" text-anchor="end" stroke="#111" stroke-width="0.2" transform="rotate(-45 217.4 637.6)">G1E</text>
<text x="232" y="637.6" font-size="10.3" text-anchor="end" stroke="#111" stroke-width="0.2" transform="rotate(-45 232 637.6)">GATA1</text>
<text x="246.6" y="637.6" font-size="10.3" text-anchor="end" stroke="#111" stroke-width="0.2" transform="rotate(-45 246.6 637.6)">V205M</text>
<text x="261.2" y="637.6" font-size="10.3" text-anchor="end" stroke="#111" stroke-width="0.2" transform="rotate(-45 261.2 637.6)">G208S</text>
<text x="275.8" y="637.6" font-size="10.3" text-anchor="end" stroke="#111" stroke-width="0.2" transform="rotate(-45 275.8 637.6)">G208R</text>
<text x="290.4" y="637.6" font-size="10.3" text-anchor="end" stroke="#111" stroke-width="0.2" transform="rotate(-45 290.4 637.6)">R216Q</text>
<text x="305" y="637.6" font-size="10.3" text-anchor="end" stroke="#111" stroke-width="0.2" transform="rotate(-45 305 637.6)">R216W</text>
<text x="319.6" y="637.6" font-size="10.3" text-anchor="end" stroke="#111" stroke-width="0.2" transform="rotate(-45 319.6 637.6)">D218G</text>
<text x="334.2" y="637.6" font-size="10.3" text-anchor="end" stroke="#111" stroke-width="0.2" transform="rotate(-45 334.2 637.6)">D218Y</text>
<text x="273.9" y="556.6" font-size="10" text-anchor="middle" font-style="italic" stroke="#111" stroke-width="0.2">Lrrc39</text>
<line x1="376.3" y1="558.7" x2="376.3" y2="629.9" stroke="#3a3a3a" stroke-width="1.1"/>
<line x1="374.3" y1="629.4" x2="376.3" y2="629.4" stroke="#3a3a3a" stroke-width="1"/>
<text x="374.6" y="633.5" font-size="10.3" text-anchor="end" stroke="#111" stroke-width="0.2">0</text>
<line x1="374.3" y1="619.3" x2="376.3" y2="619.3" stroke="#3a3a3a" stroke-width="1"/>
<text x="374.6" y="623.4" font-size="10.3" text-anchor="end" stroke="#111" stroke-width="0.2">5</text>
<line x1="374.3" y1="609.2" x2="376.3" y2="609.2" stroke="#3a3a3a" stroke-width="1"/>
<text x="374.6" y="613.3" font-size="10.3" text-anchor="end" stroke="#111" stroke-width="0.2">10</text>
<line x1="374.3" y1="599.1" x2="376.3" y2="599.1" stroke="#3a3a3a" stroke-width="1"/>
<text x="374.6" y="603.2" font-size="10.3" text-anchor="end" stroke="#111" stroke-width="0.2">15</text>
<line x1="374.3" y1="589" x2="376.3" y2="589" stroke="#3a3a3a" stroke-width="1"/>
<text x="374.6" y="593.1" font-size="10.3" text-anchor="end" stroke="#111" stroke-width="0.2">20</text>
<line x1="374.3" y1="578.9" x2="376.3" y2="578.9" stroke="#3a3a3a" stroke-width="1"/>
<text x="374.6" y="583" font-size="10.3" text-anchor="end" stroke="#111" stroke-width="0.2">25</text>
<line x1="374.3" y1="568.8" x2="376.3" y2="568.8" stroke="#3a3a3a" stroke-width="1"/>
<text x="374.6" y="572.9" font-size="10.3" text-anchor="end" stroke="#111" stroke-width="0.2">30</text>
<line x1="374.3" y1="558.7" x2="376.3" y2="558.7" stroke="#3a3a3a" stroke-width="1"/>
<text x="374.6" y="562.8" font-size="10.3" text-anchor="end" stroke="#111" stroke-width="0.2">35</text>
<line x1="376.3" y1="629.4" x2="508.3" y2="629.4" stroke="#3a3a3a" stroke-width="1.1"/>
<line x1="383.8" y1="629.4" x2="383.8" y2="631.4" stroke="#3a3a3a" stroke-width="0.8"/>
<line x1="398.4" y1="629.4" x2="398.4" y2="631.4" stroke="#3a3a3a" stroke-width="0.8"/>
<line x1="413" y1="629.4" x2="413" y2="631.4" stroke="#3a3a3a" stroke-width="0.8"/>
<line x1="427.6" y1="629.4" x2="427.6" y2="631.4" stroke="#3a3a3a" stroke-width="0.8"/>
<line x1="442.2" y1="629.4" x2="442.2" y2="631.4" stroke="#3a3a3a" stroke-width="0.8"/>
<line x1="456.8" y1="629.4" x2="456.8" y2="631.4" stroke="#3a3a3a" stroke-width="0.8"/>
<line x1="471.4" y1="629.4" x2="471.4" y2="631.4" stroke="#3a3a3a" stroke-width="0.8"/>
<line x1="486" y1="629.4" x2="486" y2="631.4" stroke="#3a3a3a" stroke-width="0.8"/>
<line x1="500.6" y1="629.4" x2="500.6" y2="631.4" stroke="#3a3a3a" stroke-width="0.8"/>
<rect x="380.2" y="628" width="7.2" height="1.4" fill="#000"/>
<line x1="398.4" y1="586.5" x2="398.4" y2="567.3" stroke="#444" stroke-width="1"/>
<line x1="396.5" y1="567.3" x2="400.3" y2="567.3" stroke="#444" stroke-width="1.1"/>
<rect x="394.8" y="586.5" width="7.2" height="42.9" fill="#000"/>
<line x1="413" y1="628" x2="413" y2="626.9" stroke="#444" stroke-width="1"/>
<line x1="411.1" y1="626.9" x2="414.9" y2="626.9" stroke="#444" stroke-width="1.1"/>
<rect x="409.4" y="628" width="7.2" height="1.4" fill="#000"/>
<rect x="424" y="628.5" width="7.2" height="0.9" fill="#000"/>
<rect x="438.6" y="628.5" width="7.2" height="0.9" fill="#000"/>
<line x1="456.8" y1="622.7" x2="456.8" y2="620.2" stroke="#444" stroke-width="1"/>
<line x1="454.9" y1="620.2" x2="458.7" y2="620.2" stroke="#444" stroke-width="1.1"/>
<rect x="453.2" y="622.7" width="7.2" height="6.7" fill="#000"/>
<line x1="471.4" y1="591" x2="471.4" y2="581.3" stroke="#444" stroke-width="1"/>
<line x1="469.5" y1="581.3" x2="473.3" y2="581.3" stroke="#444" stroke-width="1.1"/>
<rect x="467.8" y="591" width="7.2" height="38.4" fill="#000"/>
<line x1="486" y1="616" x2="486" y2="613.1" stroke="#444" stroke-width="1"/>
<line x1="484.1" y1="613.1" x2="487.9" y2="613.1" stroke="#444" stroke-width="1.1"/>
<rect x="482.4" y="616" width="7.2" height="13.4" fill="#000"/>
<rect x="497" y="628" width="7.2" height="1.4" fill="#000"/>
<text x="385.8" y="637.6" font-size="10.3" text-anchor="end" stroke="#111" stroke-width="0.2" transform="rotate(-45 385.8 637.6)">G1E</text>
<text x="400.4" y="637.6" font-size="10.3" text-anchor="end" stroke="#111" stroke-width="0.2" transform="rotate(-45 400.4 637.6)">GATA1</text>
<text x="415" y="637.6" font-size="10.3" text-anchor="end" stroke="#111" stroke-width="0.2" transform="rotate(-45 415 637.6)">V205M</text>
<text x="429.6" y="637.6" font-size="10.3" text-anchor="end" stroke="#111" stroke-width="0.2" transform="rotate(-45 429.6 637.6)">G208S</text>
<text x="444.2" y="637.6" font-size="10.3" text-anchor="end" stroke="#111" stroke-width="0.2" transform="rotate(-45 444.2 637.6)">G208R</text>
<text x="458.8" y="637.6" font-size="10.3" text-anchor="end" stroke="#111" stroke-width="0.2" transform="rotate(-45 458.8 637.6)">R216Q</text>
<text x="473.4" y="637.6" font-size="10.3" text-anchor="end" stroke="#111" stroke-width="0.2" transform="rotate(-45 473.4 637.6)">R216W</text>
<text x="488" y="637.6" font-size="10.3" text-anchor="end" stroke="#111" stroke-width="0.2" transform="rotate(-45 488 637.6)">D218G</text>
<text x="502.6" y="637.6" font-size="10.3" text-anchor="end" stroke="#111" stroke-width="0.2" transform="rotate(-45 502.6 637.6)">D218Y</text>
<text x="442.3" y="556.6" font-size="10" text-anchor="middle" font-style="italic" stroke="#111" stroke-width="0.2">Rragd</text>
<line x1="295" y1="181.8" x2="295" y2="291.9" stroke="#3a3a3a" stroke-width="1.1"/>
<line x1="293" y1="291.4" x2="295" y2="291.4" stroke="#3a3a3a" stroke-width="1"/>
<text x="293.1" y="294.4" font-size="9.9" text-anchor="end" stroke="#111" stroke-width="0.2">1</text>
<line x1="293" y1="264" x2="295" y2="264" stroke="#3a3a3a" stroke-width="1"/>
<text x="293.1" y="267" font-size="9.9" text-anchor="end" stroke="#111" stroke-width="0.2">1.002</text>
<line x1="293" y1="236.6" x2="295" y2="236.6" stroke="#3a3a3a" stroke-width="1"/>
<text x="293.1" y="239.6" font-size="9.9" text-anchor="end" stroke="#111" stroke-width="0.2">1.004</text>
<line x1="293" y1="209.2" x2="295" y2="209.2" stroke="#3a3a3a" stroke-width="1"/>
<text x="293.1" y="212.2" font-size="9.9" text-anchor="end" stroke="#111" stroke-width="0.2">1.006</text>
<line x1="293" y1="181.8" x2="295" y2="181.8" stroke="#3a3a3a" stroke-width="1"/>
<text x="293.1" y="184.8" font-size="9.9" text-anchor="end" stroke="#111" stroke-width="0.2">1.008</text>
<line x1="295" y1="291.4" x2="452.3" y2="291.4" stroke="#3a3a3a" stroke-width="1.1"/>
<line x1="315.6" y1="244.7" x2="315.6" y2="240.8" stroke="#444" stroke-width="1"/>
<line x1="311.85" y1="240.8" x2="319.35" y2="240.8" stroke="#444" stroke-width="1.1"/>
<rect x="305.8" y="244.7" width="19.6" height="46.7" fill="#000"/>
<line x1="354.8" y1="289.8" x2="354.8" y2="287.8" stroke="#444" stroke-width="1"/>
<line x1="351.05" y1="287.8" x2="358.55" y2="287.8" stroke="#444" stroke-width="1.1"/>
<rect x="345" y="289.8" width="19.6" height="1.6" fill="#000"/>
<line x1="394" y1="270.2" x2="394" y2="268.2" stroke="#444" stroke-width="1"/>
<line x1="390.25" y1="268.2" x2="397.75" y2="268.2" stroke="#444" stroke-width="1.1"/>
<rect x="384.2" y="270.2" width="19.6" height="21.2" fill="#000"/>
<line x1="433.2" y1="207.9" x2="433.2" y2="182.1" stroke="#444" stroke-width="1"/>
<line x1="429.45" y1="182.1" x2="436.95" y2="182.1" stroke="#444" stroke-width="1.1"/>
<rect x="423.4" y="207.9" width="19.6" height="83.5" fill="#000"/>
<text x="315.3" y="303.6" font-size="10" text-anchor="middle" stroke="#111" stroke-width="0.2">GATA1</text>
<text x="354.5" y="303.6" font-size="10" text-anchor="middle" stroke="#111" stroke-width="0.2">R216Q</text>
<text x="393.7" y="303.6" font-size="10" text-anchor="middle" stroke="#111" stroke-width="0.2">D218G</text>
<text x="432.9" y="303.6" font-size="10" text-anchor="middle" stroke="#111" stroke-width="0.2">R216W</text>
<text x="354.6" y="285.4" font-size="9" text-anchor="middle" stroke="#111" stroke-width="0.2">*</text>
<text x="393.6" y="266.2" font-size="9" text-anchor="middle" stroke="#111" stroke-width="0.2">*</text>
<text x="265" y="232.4" font-size="10" text-anchor="middle" stroke="#111" stroke-width="0.2" transform="rotate(-90 265 232.4)">Relative &#916;&#948; N-HN</text>
<rect x="35.8" y="166.6" width="193.8" height="170.4" fill="#fff" stroke="#666" stroke-width="1.1"/>
<line x1="34.6" y1="171.7" x2="35.8" y2="171.7" stroke="#666" stroke-width="1"/>
<text x="34.2" y="175.1" font-size="9.8" text-anchor="end" stroke="#111" stroke-width="0.2">114</text>
<line x1="34.6" y1="200.42" x2="35.8" y2="200.42" stroke="#666" stroke-width="1"/>
<text x="34.2" y="203.82" font-size="9.8" text-anchor="end" stroke="#111" stroke-width="0.2">115</text>
<line x1="34.6" y1="229.14" x2="35.8" y2="229.14" stroke="#666" stroke-width="1"/>
<text x="34.2" y="232.54" font-size="9.8" text-anchor="end" stroke="#111" stroke-width="0.2">116</text>
<line x1="34.6" y1="257.86" x2="35.8" y2="257.86" stroke="#666" stroke-width="1"/>
<text x="34.2" y="261.26" font-size="9.8" text-anchor="end" stroke="#111" stroke-width="0.2">117</text>
<line x1="34.6" y1="286.58" x2="35.8" y2="286.58" stroke="#666" stroke-width="1"/>
<text x="34.2" y="289.98" font-size="9.8" text-anchor="end" stroke="#111" stroke-width="0.2">118</text>
<line x1="34.6" y1="315.3" x2="35.8" y2="315.3" stroke="#666" stroke-width="1"/>
<text x="34.2" y="318.7" font-size="9.8" text-anchor="end" stroke="#111" stroke-width="0.2">119</text>
<text x="61.2" y="347.9" font-size="9.8" text-anchor="middle" stroke="#111" stroke-width="0.2">9.4</text>
<text x="91.05" y="347.9" font-size="9.8" text-anchor="middle" stroke="#111" stroke-width="0.2">9.3</text>
<text x="120.9" y="347.9" font-size="9.8" text-anchor="middle" stroke="#111" stroke-width="0.2">9.2</text>
<text x="150.75" y="347.9" font-size="9.8" text-anchor="middle" stroke="#111" stroke-width="0.2">9.1</text>
<text x="180.6" y="347.9" font-size="9.8" text-anchor="middle" stroke="#111" stroke-width="0.2">9.0</text>
<text x="210.45" y="347.9" font-size="9.8" text-anchor="middle" stroke="#111" stroke-width="0.2">8.9</text>
<text x="137.3" y="360.8" font-size="10.4" text-anchor="middle" stroke="#111" stroke-width="0.2"><tspan font-size="6.5" dy="-3.6">1</tspan><tspan dy="3.6">H Chemical Shift (ppm)</tspan></text>
<text x="0" y="0" font-size="10.4" text-anchor="middle" stroke="#111" stroke-width="0.2" transform="translate(15.8 245.5) rotate(-90)"><tspan font-size="6.5" dy="-3.6">15</tspan><tspan dy="3.6">N Chemical Shift (ppm)</tspan></text>
<path d="M88.5 181.3 L91.5 183.5 L97.3 191.5 L94 196 L86.5 200.4 L80.5 196 L77.5 190.8 L82.5 185.5 Z" fill="#fcfae4" stroke="#e6dc50" stroke-width="1.1" opacity="1" stroke-linejoin="round"/>
<path d="M88.2 185 L90.6 186.6 L94 191.6 L91.6 194.8 L86.6 197.3 L82.8 194.4 L81 190.8 L84.6 187.4 Z" fill="none" stroke="#ebe270" stroke-width="0.9" opacity="1" stroke-linejoin="round"/>
<path d="M87.6 188.8 L89.6 190.2 L90.8 192.4 L88.8 194.2 L86.2 194.6 L84.8 192 Z" fill="none" stroke="#eee68a" stroke-width="0.8" opacity="1" stroke-linejoin="round"/>
<ellipse cx="78.2" cy="198.8" rx="3.6" ry="2.8" transform="rotate(-20 78.2 198.8)" fill="#e4f2d6" stroke="#7cbc50" stroke-width="1" opacity="1"/>
<ellipse cx="77.4" cy="203" rx="5" ry="3.4" transform="rotate(-25 77.4 203)" fill="#d2eabc" stroke="#70b444" stroke-width="1" opacity="1"/>
<ellipse cx="76.6" cy="207.4" rx="6.2" ry="3.8" transform="rotate(-30 76.6 207.4)" fill="#c8e4ae" stroke="#66ae3c" stroke-width="1" opacity="1"/>
<ellipse cx="75.6" cy="211.8" rx="6.8" ry="3.8" transform="rotate(-32 75.6 211.8)" fill="#c0e0a4" stroke="#62aa38" stroke-width="1" opacity="1"/>
<ellipse cx="74.8" cy="215.4" rx="5.8" ry="3.2" transform="rotate(-32 74.8 215.4)" fill="none" stroke="#6cb040" stroke-width="0.9" opacity="1"/>
<ellipse cx="78.6" cy="201.5" rx="2" ry="1.5" transform="rotate(0 78.6 201.5)" fill="none" stroke="#5ea434" stroke-width="0.8" opacity="1"/>
<ellipse cx="75" cy="205.8" rx="2.2" ry="1.5" transform="rotate(0 75 205.8)" fill="none" stroke="#5ea434" stroke-width="0.8" opacity="1"/>
<ellipse cx="79" cy="209.6" rx="2" ry="1.5" transform="rotate(0 79 209.6)" fill="none" stroke="#5ea434" stroke-width="0.8" opacity="1"/>
<ellipse cx="68.4" cy="213.8" rx="4.8" ry="5" transform="rotate(-20 68.4 213.8)" fill="#dc98c8" stroke="#b84c98" stroke-width="1.1" opacity="0.95"/>
<ellipse cx="70" cy="216.4" rx="3.8" ry="4.2" transform="rotate(-20 70 216.4)" fill="none" stroke="#8a5cc0" stroke-width="1" opacity="1"/>
<ellipse cx="72.6" cy="214.2" rx="2.6" ry="2.8" transform="rotate(-20 72.6 214.2)" fill="none" stroke="#c8408c" stroke-width="0.9" opacity="1"/>
<ellipse cx="67.4" cy="219.8" rx="3.9" ry="3.8" transform="rotate(0 67.4 219.8)" fill="#b2dcf0" stroke="#56acd8" stroke-width="1" opacity="0.92"/>
<ellipse cx="70.8" cy="220.4" rx="2.6" ry="2.6" transform="rotate(0 70.8 220.4)" fill="none" stroke="#c0508c" stroke-width="0.9" opacity="1"/>
<line x1="55.5" y1="216.8" x2="72.28" y2="194.68" stroke="#111" stroke-width="1.2"/>
<path d="M75.6 190.3 L73.74 197.05 L69.6 193.91 Z" fill="#111"/>
<text x="77.6" y="230.4" font-size="10" stroke="#111" stroke-width="0.2">E118</text>
<path d="M184.0 189.0 Q184.8 182.5 191 179.4 Q198.5 177.2 204.5 180.2 L206 186 Q202 193.2 193.5 194.2 Q186.2 194.4 184.0 189.0 Z" fill="#f0d43a" stroke="#e8cc2c" stroke-width="0.9" opacity="1" stroke-linejoin="round"/>
<path d="M187.5 188.2 Q189 184 193.5 183 Q196.5 183.5 196 187.5 Q194 191 190.5 191 Q188 190.6 187.5 188.2 Z" fill="#f4e6a0" stroke="none" stroke-width="0.1" opacity="1" stroke-linejoin="round"/>
<ellipse cx="204.6" cy="188" rx="7.6" ry="7.6" transform="rotate(0 204.6 188)" fill="#8cc25a" stroke="#62a23a" stroke-width="0.9" opacity="0.85"/>
<ellipse cx="204" cy="188.4" rx="5" ry="5" transform="rotate(0 204 188.4)" fill="none" stroke="#78b44c" stroke-width="0.8" opacity="1"/>
<ellipse cx="205.5" cy="185.5" rx="2" ry="1.8" transform="rotate(0 205.5 185.5)" fill="none" stroke="#6aa840" stroke-width="0.7" opacity="1"/>
<ellipse cx="202" cy="190.5" rx="2" ry="1.8" transform="rotate(0 202 190.5)" fill="none" stroke="#6aa840" stroke-width="0.7" opacity="1"/>
<ellipse cx="214" cy="188.4" rx="2.2" ry="3.4" transform="rotate(0 214 188.4)" fill="none" stroke="#555" stroke-width="0.8" opacity="1"/>
<text x="196.8" y="176.3" font-size="10" stroke="#111" stroke-width="0.2">T107</text>
<ellipse cx="156.6" cy="260.6" rx="10.6" ry="6.2" transform="rotate(-22 156.6 260.6)" fill="#f4ec96" stroke="#e0d440" stroke-width="1.2" opacity="1"/>
<ellipse cx="156.8" cy="260.2" rx="7.2" ry="4.2" transform="rotate(-22 156.8 260.2)" fill="#faf6d6" stroke="#e4da58" stroke-width="0.9" opacity="1"/>
<ellipse cx="157" cy="259.8" rx="3.6" ry="2" transform="rotate(-22 157 259.8)" fill="#ffffff" stroke="#e8e070" stroke-width="0.8" opacity="1"/>
<ellipse cx="163" cy="250.8" rx="11.6" ry="4.8" transform="rotate(-28 163 250.8)" fill="#c4e2a8" stroke="#64ac3c" stroke-width="1.2" opacity="1"/>
<ellipse cx="163.4" cy="250.2" rx="8.6" ry="3.2" transform="rotate(-28 163.4 250.2)" fill="none" stroke="#70b444" stroke-width="0.9" opacity="1"/>
<ellipse cx="162.6" cy="251.2" rx="5" ry="1.8" transform="rotate(-28 162.6 251.2)" fill="none" stroke="#78b84c" stroke-width="0.8" opacity="1"/>
<ellipse cx="171.6" cy="247" rx="10.8" ry="5.2" transform="rotate(-30 171.6 247)" fill="#dcbcea" stroke="#9c60bc" stroke-width="1.2" opacity="1"/>
<ellipse cx="171.2" cy="247.2" rx="7.2" ry="3.4" transform="rotate(-30 171.2 247.2)" fill="none" stroke="#a870c4" stroke-width="0.9" opacity="1"/>
<ellipse cx="175.8" cy="245.2" rx="7.4" ry="4.6" transform="rotate(-32 175.8 245.2)" fill="#cce8f4" stroke="#4eaad0" stroke-width="1" opacity="0.9"/>
<path d="M176.3 238.8 L181.8 237.4 L186.2 242.2 L185.6 245.4 L179.2 251.6 L175.4 249.4 L174.6 243.6 Z" fill="none" stroke="#cc2232" stroke-width="1.3" opacity="1" stroke-linejoin="round"/>
<path d="M178 241.2 L181.4 240.4 L183.6 243.2 L180.4 247.6 L177.4 246.4 Z" fill="none" stroke="#c83c48" stroke-width="0.9" opacity="1" stroke-linejoin="round"/>
<line x1="192.7" y1="249.5" x2="170.29" y2="265.33" stroke="#111" stroke-width="1.2"/>
<path d="M165.8 268.5 L169.61 262.63 L172.61 266.87 Z" fill="#111"/>
<text x="179" y="236.6" font-size="10" stroke="#111" stroke-width="0.2">G132</text>
<path d="M125.6 307.7 L128.9 303.6 L133.6 302.3 L139 305.3 L140.4 309 L137.7 312.8 L131 312 L126.9 310.4 Z" fill="#ecc0c6" stroke="#c42a3c" stroke-width="1.1" opacity="1" stroke-linejoin="round"/>
<path d="M130.6 306 L134.8 305.2 L137.2 308.4 L134.6 311 L130.6 310.4 Z" fill="#f8ecec" stroke="#b82434" stroke-width="0.9" opacity="1" stroke-linejoin="round"/>
<ellipse cx="133.6" cy="308.2" rx="1.3" ry="1.1" transform="rotate(0 133.6 308.2)" fill="none" stroke="#a01e2e" stroke-width="0.7" opacity="1"/>
<path d="M139 300.7 L140.4 295.6 L143.1 290.2 L146.4 288.2 L149.8 289.5 L153.2 290.2 L154.1 294.2 L152.5 298.3 L147.1 298.5 L142.4 301.2 Z" fill="none" stroke="#b07ec4" stroke-width="1" opacity="1" stroke-linejoin="round"/>
<path d="M141.2 298.8 L143.7 292.9 L146.4 290.9 L151.1 292.2 L151.8 296.2 L146.4 296.6 Z" fill="none" stroke="#c8a0d4" stroke-width="0.8" opacity="1" stroke-linejoin="round"/>
<line x1="137.7" y1="318" x2="152.06" y2="304.03" stroke="#111" stroke-width="1.2"/>
<path d="M156 300.2 L153.15 306.6 L149.53 302.87 Z" fill="#111"/>
<text x="110.2" y="320.2" font-size="10" stroke="#111" stroke-width="0.2">S130</text>
<line x1="137.8" y1="394.1" x2="137.8" y2="405.4" stroke="#333" stroke-width="1.2"/>
<line x1="137.8" y1="394.7" x2="201.8" y2="394.7" stroke="#333" stroke-width="1.2"/>
<line x1="137.8" y1="404.8" x2="201.8" y2="404.8" stroke="#333" stroke-width="1.2"/>
<line x1="135.2" y1="384" x2="135.2" y2="400.35" stroke="#333" stroke-width="1.2"/>
<line x1="135.2" y1="384.6" x2="201.8" y2="384.6" stroke="#333" stroke-width="1.2"/>
<line x1="135.2" y1="399.75" x2="137.8" y2="399.75" stroke="#333" stroke-width="1.2"/>
<line x1="138.5" y1="424.4" x2="138.5" y2="435.7" stroke="#333" stroke-width="1.2"/>
<line x1="138.5" y1="425" x2="201.8" y2="425" stroke="#333" stroke-width="1.2"/>
<line x1="138.5" y1="435.1" x2="201.8" y2="435.1" stroke="#333" stroke-width="1.2"/>
<line x1="139.3" y1="444.6" x2="139.3" y2="455.9" stroke="#333" stroke-width="1.2"/>
<line x1="139.3" y1="445.2" x2="201.8" y2="445.2" stroke="#333" stroke-width="1.2"/>
<line x1="139.3" y1="455.3" x2="201.8" y2="455.3" stroke="#333" stroke-width="1.2"/>
<line x1="116.6" y1="449.65" x2="116.6" y2="466" stroke="#333" stroke-width="1.2"/>
<line x1="116.6" y1="450.25" x2="139.3" y2="450.25" stroke="#333" stroke-width="1.2"/>
<line x1="116.6" y1="465.4" x2="201.8" y2="465.4" stroke="#333" stroke-width="1.2"/>
<line x1="86.6" y1="429.45" x2="86.6" y2="458.43" stroke="#333" stroke-width="1.2"/>
<line x1="86.6" y1="430.05" x2="138.5" y2="430.05" stroke="#333" stroke-width="1.2"/>
<line x1="86.6" y1="457.83" x2="116.6" y2="457.83" stroke="#333" stroke-width="1.2"/>
<line x1="74.4" y1="414.3" x2="74.4" y2="444.54" stroke="#333" stroke-width="1.2"/>
<line x1="74.4" y1="414.9" x2="201.8" y2="414.9" stroke="#333" stroke-width="1.2"/>
<line x1="74.4" y1="443.94" x2="86.6" y2="443.94" stroke="#333" stroke-width="1.2"/>
<line x1="140.9" y1="485" x2="140.9" y2="496.3" stroke="#333" stroke-width="1.2"/>
<line x1="140.9" y1="485.6" x2="201.8" y2="485.6" stroke="#333" stroke-width="1.2"/>
<line x1="140.9" y1="495.7" x2="201.8" y2="495.7" stroke="#333" stroke-width="1.2"/>
<line x1="135" y1="474.9" x2="135" y2="491.25" stroke="#333" stroke-width="1.2"/>
<line x1="135" y1="475.5" x2="201.8" y2="475.5" stroke="#333" stroke-width="1.2"/>
<line x1="135" y1="490.65" x2="140.9" y2="490.65" stroke="#333" stroke-width="1.2"/>
<line x1="128.3" y1="505.2" x2="128.3" y2="516.5" stroke="#333" stroke-width="1.2"/>
<line x1="128.3" y1="505.8" x2="201.8" y2="505.8" stroke="#333" stroke-width="1.2"/>
<line x1="128.3" y1="515.9" x2="201.8" y2="515.9" stroke="#333" stroke-width="1.2"/>
<line x1="112.1" y1="510.25" x2="112.1" y2="526.6" stroke="#333" stroke-width="1.2"/>
<line x1="112.1" y1="510.85" x2="128.3" y2="510.85" stroke="#333" stroke-width="1.2"/>
<line x1="112.1" y1="526" x2="201.8" y2="526" stroke="#333" stroke-width="1.2"/>
<line x1="78.1" y1="482.48" x2="78.1" y2="519.02" stroke="#333" stroke-width="1.2"/>
<line x1="78.1" y1="483.08" x2="135" y2="483.08" stroke="#333" stroke-width="1.2"/>
<line x1="78.1" y1="518.42" x2="112.1" y2="518.42" stroke="#333" stroke-width="1.2"/>
<line x1="68.1" y1="428.82" x2="68.1" y2="501.35" stroke="#333" stroke-width="1.2"/>
<line x1="68.1" y1="429.42" x2="74.4" y2="429.42" stroke="#333" stroke-width="1.2"/>
<line x1="68.1" y1="500.75" x2="78.1" y2="500.75" stroke="#333" stroke-width="1.2"/>
<line x1="17.3" y1="391.57" x2="17.3" y2="465.68" stroke="#333" stroke-width="1.2"/>
<line x1="17.3" y1="392.18" x2="135.2" y2="392.18" stroke="#333" stroke-width="1.2"/>
<line x1="17.3" y1="465.08" x2="68.1" y2="465.08" stroke="#333" stroke-width="1.2"/>
<rect x="201.8" y="381.6" width="34.6" height="25.8" fill="#dc5a55" stroke="#3a3a3a" stroke-width="1.2"/>
<text x="219.2" y="397.5" font-size="9.8" text-anchor="middle" fill="#4a0d0d" stroke="#4a0d0d" stroke-width="0.1">D218Y</text>
<rect x="201.8" y="412.2" width="34.6" height="25.5" fill="#bf7ccb" stroke="#3a3a3a" stroke-width="1.2"/>
<text x="219.2" y="427.95" font-size="9.8" text-anchor="middle" fill="#3a1244" stroke="#3a1244" stroke-width="0.1">D218G</text>
<rect x="201.8" y="442.6" width="34.6" height="25" fill="#a9d9e8" stroke="#3a3a3a" stroke-width="1.2"/>
<text x="219.2" y="458.1" font-size="9.8" text-anchor="middle" fill="#0f3340" stroke="#0f3340" stroke-width="0.1">R216Q</text>
<rect x="201.8" y="472.6" width="34.6" height="25.6" fill="#f4d94c" stroke="#3a3a3a" stroke-width="1.2"/>
<text x="219.2" y="488.4" font-size="9.8" text-anchor="middle" fill="#3a3000" stroke="#3a3000" stroke-width="0.1">R216W</text>
<rect x="201.8" y="502.8" width="34.6" height="25.2" fill="#8dc163" stroke="#3a3a3a" stroke-width="1.2"/>
<text x="219.2" y="518.4" font-size="9.8" text-anchor="middle" fill="#10300a" stroke="#10300a" stroke-width="0.1">GATA1</text>
<defs><clipPath id="cb1"><circle cx="295.6" cy="441" r="42.3"/></clipPath><clipPath id="cy1"><circle cx="347" cy="440.8" r="39.7"/></clipPath></defs>
<circle cx="295.6" cy="441" r="42.3" fill="#a9d9e7"/>
<circle cx="347" cy="440.8" r="39.7" fill="#f2d63c"/>
<circle cx="347" cy="440.8" r="39.7" fill="#dbd548" clip-path="url(#cb1)"/>
<circle cx="295.6" cy="475" r="32.2" fill="#bd84c5"/>
<circle cx="295.6" cy="475" r="32.2" fill="#a27cc0" clip-path="url(#cb1)"/>
<circle cx="295.6" cy="475" r="32.2" fill="#c68aa6" clip-path="url(#cy1)"/>
<g clip-path="url(#cb1)"><circle cx="295.6" cy="475" r="32.2" fill="#bc7f98" clip-path="url(#cy1)"/></g>
<circle cx="295.6" cy="441" r="42.3" fill="none" stroke="#2a1630" stroke-width="1.25"/>
<circle cx="347" cy="440.8" r="39.7" fill="none" stroke="#2a1630" stroke-width="1.25"/>
<circle cx="295.6" cy="475" r="32.2" fill="none" stroke="#2a1630" stroke-width="1.25"/>
<defs><clipPath id="cb2"><circle cx="436.8" cy="434.7" r="43.2"/></clipPath><clipPath id="cy2"><circle cx="482.8" cy="435.2" r="36.2"/></clipPath></defs>
<circle cx="436.8" cy="434.7" r="43.2" fill="#a9d9e7"/>
<circle cx="482.8" cy="435.2" r="36.2" fill="#f2d63c"/>
<circle cx="482.8" cy="435.2" r="36.2" fill="#dbd548" clip-path="url(#cb2)"/>
<circle cx="436.6" cy="471" r="36.3" fill="#bd84c5"/>
<circle cx="436.6" cy="471" r="36.3" fill="#a27cc0" clip-path="url(#cb2)"/>
<circle cx="436.6" cy="471" r="36.3" fill="#c68aa6" clip-path="url(#cy2)"/>
<g clip-path="url(#cb2)"><circle cx="436.6" cy="471" r="36.3" fill="#bc7f98" clip-path="url(#cy2)"/></g>
<circle cx="436.8" cy="434.7" r="43.2" fill="none" stroke="#2a1630" stroke-width="1.25"/>
<circle cx="482.8" cy="435.2" r="36.2" fill="none" stroke="#2a1630" stroke-width="1.25"/>
<circle cx="436.6" cy="471" r="36.3" fill="none" stroke="#2a1630" stroke-width="1.25"/>
<text x="280.4" y="437" font-size="10" text-anchor="middle" fill="#2a1a2a" stroke="#2a1a2a" stroke-width="0.4">19</text>
<text x="323.6" y="437" font-size="10" text-anchor="middle" fill="#2a1a2a" stroke="#2a1a2a" stroke-width="0.4">8</text>
<text x="360.6" y="437" font-size="10" text-anchor="middle" fill="#2a1a2a" stroke="#2a1a2a" stroke-width="0.4">26</text>
<text x="297.7" y="472.8" font-size="10" text-anchor="middle" fill="#2a1a2a" stroke="#2a1a2a" stroke-width="0.4">12</text>
<text x="317.9" y="464.4" font-size="10" text-anchor="middle" fill="#2a1a2a" stroke="#2a1a2a" stroke-width="0.4">2</text>
<text x="290.5" y="496.8" font-size="10" text-anchor="middle" fill="#2a1a2a" stroke="#2a1a2a" stroke-width="0.4">10</text>
<text x="421.7" y="433.8" font-size="10" text-anchor="middle" fill="#2a1a2a" stroke="#2a1a2a" stroke-width="0.4">71</text>
<text x="467.5" y="433.8" font-size="10" text-anchor="middle" fill="#2a1a2a" stroke="#2a1a2a" stroke-width="0.4">33</text>
<text x="503.4" y="433.8" font-size="10" text-anchor="middle" fill="#2a1a2a" stroke="#2a1a2a" stroke-width="0.4">70</text>
<text x="459.4" y="457.5" font-size="10" text-anchor="middle" fill="#2a1a2a" stroke="#2a1a2a" stroke-width="0.4">11</text>
<text x="438.4" y="465.5" font-size="10" text-anchor="middle" fill="#2a1a2a" stroke="#2a1a2a" stroke-width="0.4">49</text>
<text x="431.7" y="495.2" font-size="10" text-anchor="middle" fill="#2a1a2a" stroke="#2a1a2a" stroke-width="0.4">52</text>
<text x="295.2" y="396.6" font-size="10" text-anchor="middle" fill="#b2dae8" stroke="#b2dae8" stroke-width="0.2">R216Q</text>
<text x="347.4" y="399.6" font-size="10" text-anchor="middle" fill="#efdc84" stroke="#efdc84" stroke-width="0.2">R216W</text>
<text x="295.2" y="516.6" font-size="10" text-anchor="middle" fill="#c6a6ce" stroke="#c6a6ce" stroke-width="0.2">D218G</text>
<text x="437.2" y="390.3" font-size="10" text-anchor="middle" fill="#b2dae8" stroke="#b2dae8" stroke-width="0.2">R216Q</text>
<text x="482.4" y="397.8" font-size="10" text-anchor="middle" fill="#efdc84" stroke="#efdc84" stroke-width="0.2">R216W</text>
<text x="436.7" y="516.6" font-size="10" text-anchor="middle" fill="#c6a6ce" stroke="#c6a6ce" stroke-width="0.2">D218G</text>
<text x="318.9" y="527.8" font-size="10" text-anchor="middle" stroke="#111" stroke-width="0.2">Downregulated &#8805; 2-fold</text>
<text x="455" y="527.6" font-size="10" text-anchor="middle" stroke="#111" stroke-width="0.2">Downregulated &#8805; 1.5-fold</text>
</svg>
</body></html>
